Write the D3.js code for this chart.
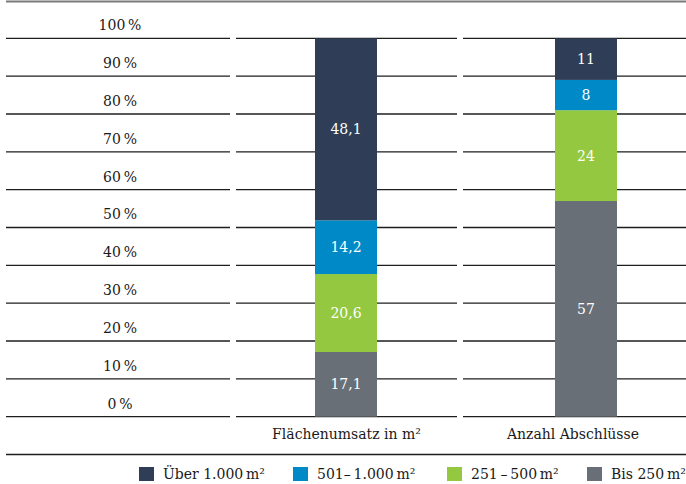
<!DOCTYPE html>
<html>
<head>
<meta charset="utf-8">
<script src="https://cdn.jsdelivr.net/npm/d3@7"></script>
<style>
  body { margin: 0; background: #fff; }
  text { font-family: "DejaVu Serif", serif; }
</style>
</head>
<body>
<div id="chart"></div>
<script>
// data
const categories = ["Flächenumsatz in m²", "Anzahl Abschlüsse"];
const groups = ["Bis 250\u2009m²", "251\u2009–\u2009500\u2009m²", "501–\u20091.000\u2009m²", "Über 1.000\u2009m²"];
const flaechenumsatz = [17.1, 20.6, 14.2, 48.1];
const abschluesse = [57, 24, 8, 11];
const valueLabels = [["17,1", "20,6", "14,2", "48,1"], ["57", "24", "8", "11"]];
const ticks = [0, 10, 20, 30, 40, 50, 60, 70, 80, 90, 100];
const legendOrder = [groups[3], groups[2], groups[1], groups[0]];

const colorList = ["#696f77", "#93c840", "#0089c7", "#2f3e56"];
const color = d3.scaleOrdinal().domain(groups).range(colorList);

const width = 686, height = 484;

const svg = d3.select("#chart")
  .append("svg")
  .attr("width", width)
  .attr("height", height);

const y = d3.scaleLinear().domain([0, 100]).range([416.7, 38.3]);

// columns: label column + one per category
const columns = [[6, 230], [236, 457], [463, 686]];
const barCenter = d3.scaleOrdinal().domain(categories).range([346, 586]);
const labelCenter = d3.scaleOrdinal().domain(categories).range([346.5, 573]);
const barWidth = 62;

// top rule
svg.append("line")
  .attr("x1", 6).attr("x2", width)
  .attr("y1", 1.5).attr("y2", 1.5)
  .attr("stroke", "#7a7a7a")
  .attr("stroke-width", 2);

// grid lines per column + tick labels
ticks.forEach(t => {
  columns.forEach(c => {
    svg.append("line")
      .attr("x1", c[0]).attr("x2", c[1])
      .attr("y1", y(t)).attr("y2", y(t))
      .attr("stroke", "#1e1e1e")
      .attr("stroke-width", 1.3);
  });
  svg.append("text")
    .attr("x", 120)
    .attr("y", y(t) - 13)
    .attr("dy", "0.35em")
    .attr("text-anchor", "middle")
    .attr("font-size", 14)
    .attr("fill", "#1a1a1a")
    .text(t + "\u2009%");
});

// stacked bars
const rows = categories.map((c, i) => {
  const vals = i === 0 ? flaechenumsatz : abschluesse;
  const r = { category: c };
  groups.forEach((g, j) => r[g] = vals[j]);
  return r;
});
const series = d3.stack().keys(groups)(rows);

series.forEach((s, j) => {
  s.forEach((d, i) => {
    const cx = barCenter(d.data.category);
    svg.append("rect")
      .attr("x", cx - barWidth / 2)
      .attr("y", y(d[1]))
      .attr("width", barWidth)
      .attr("height", y(d[0]) - y(d[1]))
      .attr("fill", color(s.key));
    svg.append("text")
      .attr("x", cx)
      .attr("y", (y(d[0]) + y(d[1])) / 2)
      .attr("dy", "0.35em")
      .attr("text-anchor", "middle")
      .attr("font-size", 14)
      .attr("fill", "#fff")
      .text(valueLabels[i][j]);
  });
});

// category labels
categories.forEach(c => {
  svg.append("text")
    .attr("x", labelCenter(c))
    .attr("y", 434)
    .attr("dy", "0.35em")
    .attr("text-anchor", "middle")
    .attr("font-size", 14)
    .attr("fill", "#1a1a1a")
    .text(c);
});

// bottom rule
svg.append("line")
  .attr("x1", 6).attr("x2", width)
  .attr("y1", 454.5).attr("y2", 454.5)
  .attr("stroke", "#1e1e1e")
  .attr("stroke-width", 1.3);

// legend
const legendX = d3.scaleOrdinal().domain(legendOrder).range([139, 293, 447, 587]);
legendOrder.forEach(g => {
  svg.append("rect")
    .attr("x", legendX(g))
    .attr("y", 467)
    .attr("width", 15)
    .attr("height", 14)
    .attr("fill", color(g));
  svg.append("text")
    .attr("x", legendX(g) + 24)
    .attr("y", 474)
    .attr("dy", "0.35em")
    .attr("font-size", 14)
    .attr("fill", "#1a1a1a")
    .text(g);
});
</script>
</body>
</html>
